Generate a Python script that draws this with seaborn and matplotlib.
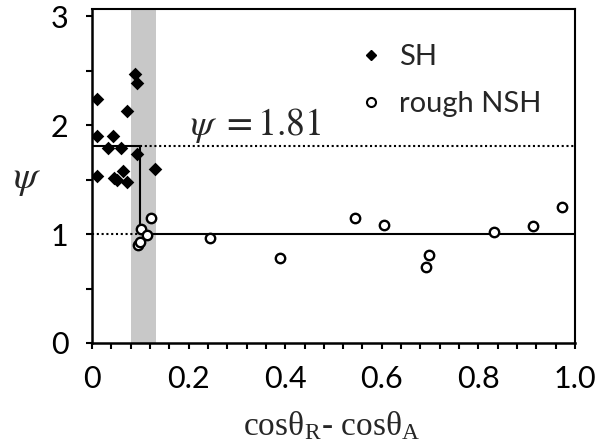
import numpy as np
import pandas as pd
import seaborn as sns
import matplotlib
matplotlib.use("Agg")
import matplotlib.pyplot as plt
from matplotlib.lines import Line2D

# ---- data ----
sh_x = [0.010, 0.010, 0.010, 0.034, 0.044, 0.060, 0.046, 0.052, 0.065, 0.072,
        0.072, 0.089, 0.094, 0.094, 0.130]
sh_y = [2.24, 1.90, 1.53, 1.79, 1.90, 1.79, 1.51, 1.50, 1.58, 1.48,
        2.13, 2.47, 2.39, 1.73, 1.60]
nsh_x = [0.095, 0.099, 0.102, 0.114, 0.123, 0.244, 0.390, 0.545, 0.605,
         0.697, 0.692, 0.833, 0.914, 0.974]
nsh_y = [0.90, 0.93, 1.05, 0.99, 1.15, 0.96, 0.78, 1.15, 1.08,
         0.81, 0.70, 1.02, 1.07, 1.25]
psi_sh = 1.81
psi_nsh = 1.0
x_transition = 0.10
band = [0.080, 0.133]
x_ticks = [0, 0.2, 0.4, 0.6, 0.8, 1.0]
x_ticklabels = ["0", "0.2", "0.4", "0.6", "0.8", "1.0"]
y_ticks = [0, 1, 2, 3]
y_ticklabels = ["0", "1", "2", "3"]

sns.set_theme(style="white")
plt.rcParams["font.family"] = ["Lato", "DejaVu Sans"]
plt.rcParams["mathtext.fontset"] = "stix"

fig = plt.figure(figsize=(5.96, 4.46), dpi=100)
ax = fig.add_axes([92 / 596, 1 - 343 / 446, (575 - 92) / 596, (343 - 9) / 446])

df_sh = pd.DataFrame({"x": sh_x, "y": sh_y})
df_nsh = pd.DataFrame({"x": nsh_x, "y": nsh_y})

ax.axvspan(band[0], band[1], color="#c8c8c8", lw=0, zorder=0)

# step lines
ax.plot([0, x_transition, x_transition, 1.0], [psi_sh, psi_sh, psi_nsh, psi_nsh],
        color="black", lw=1.5, zorder=2, solid_joinstyle="miter")
ax.plot([x_transition, 1.0], [psi_sh, psi_sh], color="black", lw=1.5,
        ls=(0, (1, 1.3)), zorder=2)
ax.plot([0, x_transition], [psi_nsh, psi_nsh], color="black", lw=1.5,
        ls=(0, (1, 1.3)), zorder=2)

sns.scatterplot(data=df_sh, x="x", y="y", marker="D", s=48, color="black",
                edgecolor="black", linewidth=0, ax=ax, zorder=3)
sns.scatterplot(data=df_nsh, x="x", y="y", marker="o", s=46, facecolor="white",
                edgecolor="black", linewidth=1.7, ax=ax, zorder=3)

ax.set_xlim(0, 1.0)
ax.set_ylim(0, 3.065)
ax.set_xticks(x_ticks)
ax.set_xticklabels(x_ticklabels)
ax.set_yticks(y_ticks)
ax.set_yticklabels(y_ticklabels)
ax.set_xticks(np.arange(0, 1.0001, 0.04), minor=True)
ax.set_yticks([0.5, 1.5, 2.5], minor=True)
ax.tick_params(axis="both", which="both", direction="out", color="black",
               width=1.5, labelsize=22, labelcolor="black")
ax.tick_params(axis="both", which="major", length=4)
ax.tick_params(axis="both", which="minor", length=4)
ax.tick_params(axis="x", which="major", pad=12)
ax.tick_params(axis="y", which="major", pad=13)
ax.tick_params(axis="x", which="both", bottom=True)
ax.tick_params(axis="y", which="both", left=True)

for sp in ax.spines.values():
    sp.set_visible(True)
    sp.set_color("black")
ax.spines["left"].set_linewidth(1.8)
ax.spines["bottom"].set_linewidth(1.8)
ax.spines["top"].set_linewidth(1.5)
ax.spines["right"].set_linewidth(1.5)

ax.set_xlabel("")
ax.set_ylabel("")
fig.text(332 / 596, 1 - 435 / 446,
         r"cosθ$_\mathregular{R}$- cosθ$_\mathregular{A}$",
         family="Liberation Serif", fontsize=24, ha="center", va="baseline")
fig.text(27 / 596, 1 - 180 / 446, r"$\psi$", fontsize=28, ha="center", va="center")

ax.text(0.203, 1.91, r"$\psi\ = 1.81$", fontsize=27, ha="left", va="baseline")

handles = [
    Line2D([], [], marker="D", color="black", ls="none", markersize=5.5),
    Line2D([], [], marker="o", markerfacecolor="white", markeredgecolor="black",
           markeredgewidth=1.5, ls="none", markersize=6.5),
]
ax.legend(handles, ["SH", "rough NSH"], loc="upper left",
          bbox_to_anchor=(0.53, 0.93), frameon=False, fontsize=21,
          handlelength=0.8, handletextpad=0.55, labelspacing=0.72,
          borderaxespad=0)

fig.savefig("out.png", dpi=100)
